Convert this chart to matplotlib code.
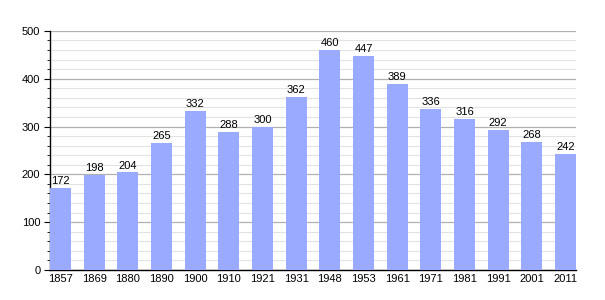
import matplotlib
matplotlib.use('Agg')
import matplotlib.pyplot as plt
from matplotlib.ticker import MultipleLocator

years = ['1857', '1869', '1880', '1890', '1900', '1910', '1921', '1931',
         '1948', '1953', '1961', '1971', '1981', '1991', '2001', '2011']
population = [172, 198, 204, 265, 332, 288, 300, 362,
              460, 447, 389, 336, 316, 292, 268, 242]

plt.rcParams['font.family'] = ['Liberation Sans', 'DejaVu Sans']

fig = plt.figure(figsize=(6.05, 3.0), dpi=100)
ax = fig.add_axes([0.0826, 0.1, 0.8694, 0.797])

w = 0.62
x = list(range(len(years)))
ax.bar(x, population, width=w, color='#99aaff', zorder=3)

for xi, v in zip(x, population):
    ax.text(xi, v + 4, str(v), ha='center', va='bottom', fontsize=8, zorder=4)

ax.set_xlim(-w / 2, len(years) - 1 + w / 2)
ax.set_ylim(0, 500)
ax.set_xticks(x)
ax.set_xticklabels(years)
ax.yaxis.set_major_locator(MultipleLocator(100))
ax.yaxis.set_minor_locator(MultipleLocator(20))

ax.grid(axis='y', which='major', color='#b0b0b0', linewidth=0.9, zorder=0)
ax.grid(axis='y', which='minor', color='#e2e2e2', linewidth=0.8, zorder=0)

for s in ['top', 'right']:
    ax.spines[s].set_visible(False)
ax.spines['left'].set_linewidth(1.0)
ax.spines['bottom'].set_linewidth(1.0)

ax.tick_params(axis='x', length=0, labelsize=8, pad=3)
ax.tick_params(axis='y', which='major', length=4, labelsize=8, pad=3)
ax.tick_params(axis='y', which='minor', length=2)

fig.savefig('out.png', dpi=100)
